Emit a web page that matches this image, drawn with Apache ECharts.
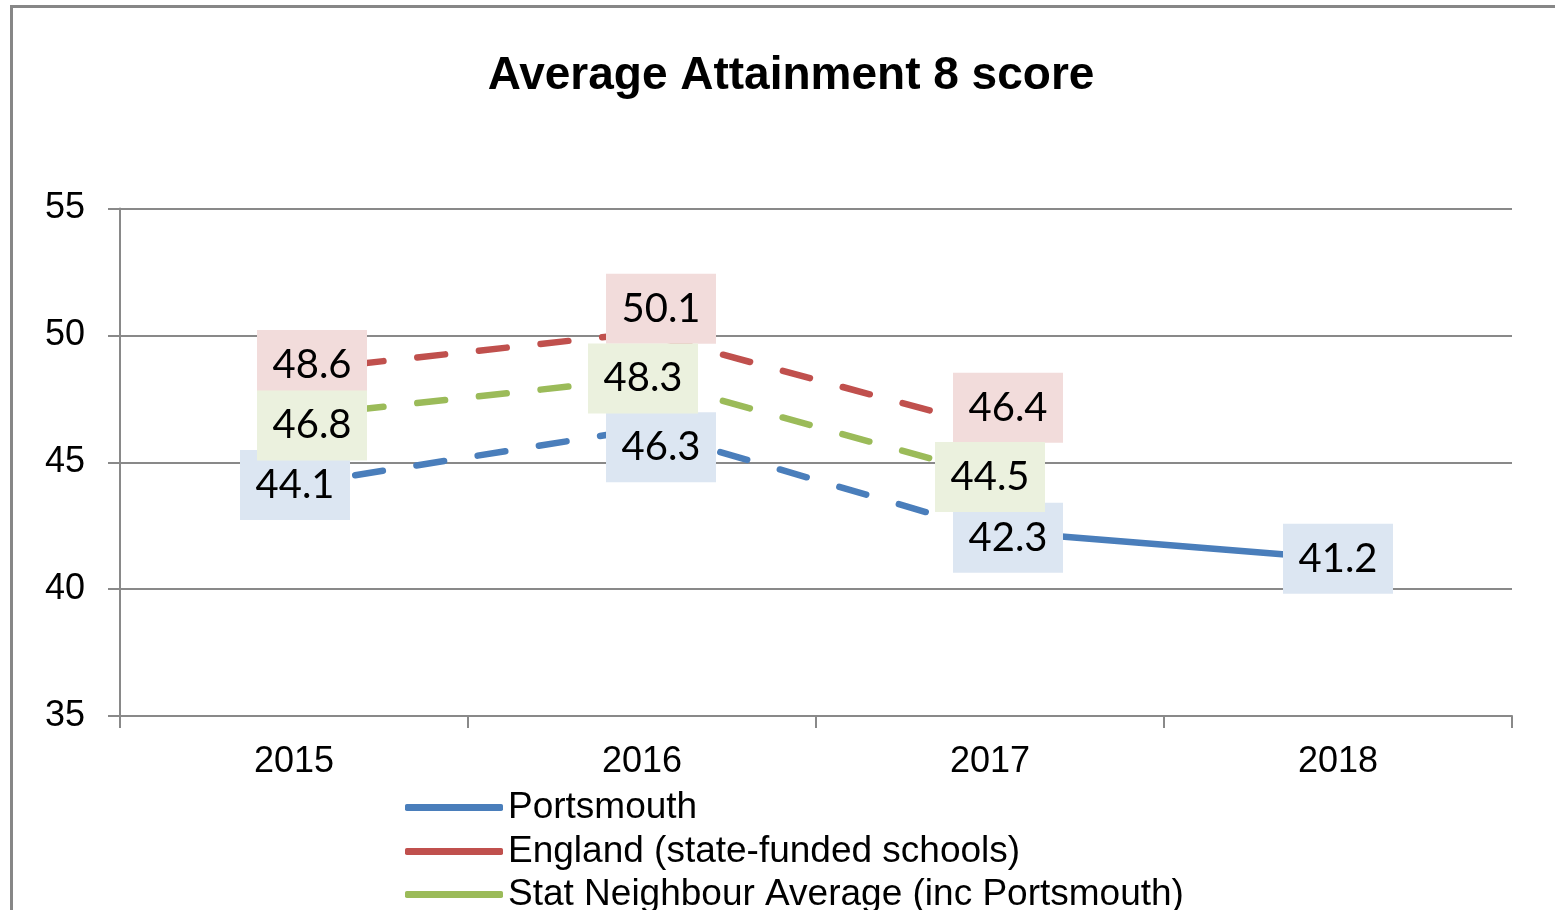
<!DOCTYPE html>
<html>
<head>
<meta charset="utf-8">
<title>Average Attainment 8 score</title>
<script src="https://cdn.jsdelivr.net/npm/echarts@6/dist/echarts.min.js"></script>
<style>
    html, body { margin: 0; padding: 0; background: #fff; }
    #chart { width: 1555px; height: 910px; }
</style>
</head>
<body>
<div id="chart"></div>
<script>
    // data
    var years = ['2015', '2016', '2017', '2018'];
    var portsmouth = [44.1, 46.3, 42.3, 41.2];
    var england = [48.6, 50.1, 46.4, null];
    var statNeighbour = [46.8, 48.3, 44.5, null];
    var yTicks = [35, 40, 45, 50, 55];
    var seriesNames = ['Portsmouth', 'England (state-funded schools)', 'Stat Neighbour Average (inc Portsmouth)'];
    var firstSolidYear = 2; // index from which the Portsmouth line is drawn solid

    // label box nudges (px) so the boxes sit like in the original
    var offsetsPortsmouth = [[1, 0], [19, 18], [18, 7], [0, 0]];
    var offsetsEngland = [[18, -6], [19, -24], [18, -19]];
    var offsetsStat = [[18, 9], [1, 0], [0, 2]];

    var colors = {
        blue: '#4a7ebb',
        red: '#c0504d',
        green: '#9bbb59'
    };
    var boxColors = {
        blue: '#dce6f2',
        red: '#f2dcdb',
        green: '#ebf1de'
    };

    function withLabels(values, offsets, boxColor) {
        return values.map(function (v, i) {
            if (v === null) return null;
            return {
                value: v,
                label: {
                    offset: offsets[i] || [0, 0],
                    backgroundColor: boxColor
                }
            };
        });
    }

    function baseLabel() {
        return {
            show: true,
            position: 'inside',
            fontFamily: 'Lato',
            fontSize: 40,
            lineHeight: 40,
            color: '#000',
            width: 82,
            align: 'center',
            padding: [18, 14, 12, 14],
            formatter: function (p) { return p.value.toFixed(1); }
        };
    }

    function lineSeries(name, data, color, dashed, z) {
        return {
            name: name,
            type: 'line',
            data: data,
            z: z,
            symbol: 'circle',
            symbolSize: 1,
            showSymbol: true,
            connectNulls: false,
            animation: false,
            itemStyle: { color: color },
            lineStyle: {
                color: color,
                width: 6.5,
                type: dashed ? [28, 34] : 'solid',
                cap: 'round'
            },
            label: baseLabel()
        };
    }

    // one legend block per row, stacked like the original
    function legendRow(name, top) {
        return {
            left: 400,
            top: top,
            itemWidth: 98,
            itemHeight: 7,
            icon: 'roundRect',
            data: [name],
            textStyle: {
                fontFamily: 'Liberation Sans',
                fontSize: 37,
                lineHeight: 37,
                color: '#000'
            }
        };
    }

    var portDashed = withLabels(portsmouth.map(function (v, i) {
        return i <= firstSolidYear ? v : null;
    }), offsetsPortsmouth, boxColors.blue);
    var portSolid = withLabels(portsmouth.map(function (v, i) {
        return i > firstSolidYear ? v : null;
    }), offsetsPortsmouth, boxColors.blue);
    // the solid piece still needs the joining point, without a second label
    portSolid[firstSolidYear] = { value: portsmouth[firstSolidYear], label: { show: false } };

    var chart = echarts.init(document.getElementById('chart'));
    chart.setOption({
        backgroundColor: '#fff',
        animation: false,
        title: {
            text: 'Average Attainment 8 score',
            left: 786,
            top: 48,
            textAlign: 'center',
            textStyle: {
                fontFamily: 'Liberation Sans',
                fontWeight: 'bold',
                fontSize: 46,
                color: '#000'
            }
        },
        graphic: [{
            type: 'rect',
            shape: { x: 11.5, y: 6.5, width: 1600, height: 1000 },
            style: { fill: 'none', stroke: '#878787', lineWidth: 3 },
            silent: true
        }],
        legend: [
            legendRow(seriesNames[0], 784),
            legendRow(seriesNames[1], 828),
            legendRow(seriesNames[2], 871)
        ],
        grid: {
            left: 120,
            right: 43,
            top: 208.5,
            bottom: 194
        },
        xAxis: {
            type: 'category',
            data: years,
            boundaryGap: true,
            axisLine: { lineStyle: { color: '#898989', width: 2 } },
            axisTick: { show: true, length: 12, lineStyle: { color: '#898989', width: 2 } },
            axisLabel: {
                margin: 28,
                fontFamily: 'Liberation Sans',
                fontSize: 36,
                color: '#000'
            },
            splitLine: { show: false }
        },
        yAxis: {
            type: 'value',
            min: yTicks[0],
            max: yTicks[yTicks.length - 1],
            interval: yTicks[1] - yTicks[0],
            axisLine: { show: true, lineStyle: { color: '#898989', width: 2 } },
            axisTick: { show: true, length: 12, lineStyle: { color: '#898989', width: 2 } },
            axisLabel: {
                margin: 35,
                fontFamily: 'Liberation Sans',
                fontSize: 36,
                color: '#000'
            },
            splitLine: { show: true, lineStyle: { color: '#898989', width: 2 } }
        },
        series: [
            lineSeries(seriesNames[0], portDashed, colors.blue, true, 2),
            lineSeries(seriesNames[0], portSolid, colors.blue, false, 2),
            lineSeries(seriesNames[1], withLabels(england, offsetsEngland, boxColors.red), colors.red, true, 3),
            lineSeries(seriesNames[2], withLabels(statNeighbour, offsetsStat, boxColors.green), colors.green, true, 4)
        ]
    });
</script>
</body>
</html>
